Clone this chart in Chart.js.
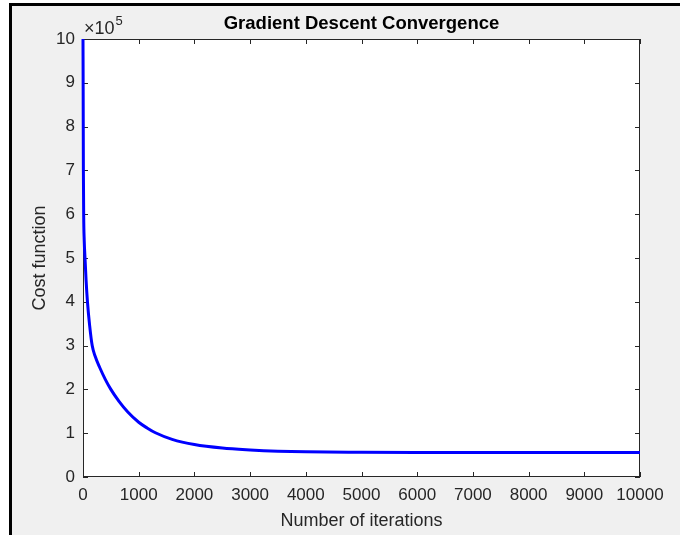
<!DOCTYPE html>
<html>
<head>
<meta charset="utf-8">
<script src="https://cdn.jsdelivr.net/npm/chart.js@4"></script>
<style>
html,body{margin:0;padding:0;background:#fff;}
#wrap{width:680px;height:535px;}
</style>
</head>
<body>
<div id="wrap"><canvas id="c" width="680" height="535"></canvas></div>
<script>
// ---- data ----
const iterations = [0, 3, 7, 12, 22, 36, 55, 80, 120, 165, 220, 300, 400, 500, 650, 800, 1000, 1150, 1300, 1600, 2000, 2500, 3000, 3500, 4000, 5000, 6000, 7000, 8000, 9000, 10000];
const cost = [1000000, 880000, 700000, 600000, 540000, 500000, 450000, 400000, 345000, 300000, 275000, 250000, 223000, 200000, 172000, 149000, 125000, 112000, 101000, 86000, 74000, 66000, 61800, 59000, 57500, 56500, 56000, 56000, 55900, 55800, 55800];
const xTicks = [0, 1000, 2000, 3000, 4000, 5000, 6000, 7000, 8000, 9000, 10000];
const yTicks = [0, 1, 2, 3, 4, 5, 6, 7, 8, 9, 10];
const yExponent = 5;
const titleText = "Gradient Descent Convergence";
const xLabel = "Number of iterations";
const yLabel = "Cost function";

const AX = '#262626';
const FONT = '"Liberation Sans", Arial, sans-serif';

const decor = {
  id: 'decor',
  beforeDraw(chart) {
    const ctx = chart.ctx, a = chart.chartArea;
    ctx.save();
    ctx.fillStyle = '#ffffff';
    ctx.fillRect(0, 0, chart.width, chart.height);
    ctx.fillStyle = '#f0f0f0';
    ctx.fillRect(12, 6, chart.width - 12, chart.height - 6);
    ctx.fillStyle = '#000000';
    ctx.fillRect(9, 3, chart.width - 9, 3);
    ctx.fillRect(9, 3, 3, chart.height - 3);
    ctx.fillStyle = '#ffffff';
    ctx.fillRect(a.left, a.top, a.right - a.left, a.bottom - a.top);
    ctx.restore();
  },
  beforeDatasetsDraw(chart) {
    const ctx = chart.ctx, a = chart.chartArea;
    const xs = chart.scales.x, ys = chart.scales.y;
    ctx.save();
    ctx.strokeStyle = AX;
    ctx.lineWidth = 1;
    ctx.strokeRect(Math.round(a.left) + 0.5, Math.round(a.top) + 0.5, Math.round(a.right - a.left) - 1, Math.round(a.bottom - a.top) - 1);
    const tl = 5;
    ctx.beginPath();
    xs.ticks.forEach(t => {
      const px = Math.round(xs.getPixelForValue(t.value)) + 0.5;
      ctx.moveTo(px, a.bottom); ctx.lineTo(px, a.bottom - tl);
      ctx.moveTo(px, a.top); ctx.lineTo(px, a.top + tl);
    });
    ys.ticks.forEach(t => {
      const py = Math.round(ys.getPixelForValue(t.value)) + 0.5;
      ctx.moveTo(a.left, py); ctx.lineTo(a.left + tl, py);
      ctx.moveTo(a.right, py); ctx.lineTo(a.right - tl, py);
    });
    ctx.stroke();
    ctx.restore();
  },
  afterDraw(chart) {
    const ctx = chart.ctx, a = chart.chartArea;
    ctx.save();
    ctx.fillStyle = '#000000';
    ctx.textAlign = 'center';
    ctx.textBaseline = 'middle';
    ctx.font = 'bold 18.5px ' + FONT;
    ctx.fillText(titleText, (a.left + a.right) / 2, 24);

    ctx.fillStyle = AX;
    ctx.font = '18px ' + FONT;
    ctx.fillText(xLabel, (a.left + a.right) / 2, 521);

    ctx.save();
    ctx.translate(40, (a.top + a.bottom) / 2);
    ctx.rotate(-Math.PI / 2);
    ctx.fillText(yLabel, 0, 0);
    ctx.restore();

    ctx.textAlign = 'left';
    ctx.textBaseline = 'alphabetic';
    ctx.font = '18px ' + FONT;
    const base = '\u00d710';
    ctx.fillText(base, a.left + 1, 34);
    const w = ctx.measureText(base).width;
    ctx.font = '13px ' + FONT;
    ctx.fillText(String(yExponent), a.left + 1 + w + 1, 25);
    ctx.restore();
  }
};

new Chart(document.getElementById('c'), {
  type: 'line',
  data: {
    datasets: [{
      data: iterations.map((x, i) => ({ x: x, y: cost[i] })),
      borderColor: '#0000ff',
      borderWidth: 3,
      pointRadius: 0,
      fill: false,
      clip: 4,
      cubicInterpolationMode: 'monotone'
    }]
  },
  options: {
    responsive: false,
    animation: false,
    devicePixelRatio: 1,
    layout: { padding: { left: 0, top: 39, right: 40, bottom: 0 } },
    plugins: { legend: { display: false }, title: { display: false }, tooltip: { enabled: false } },
    scales: {
      x: {
        type: 'linear', min: 0, max: 10000,
        afterBuildTicks: s => { s.ticks = xTicks.map(v => ({ value: v })); },
        afterFit: s => { s.height = 58; },
        grid: { display: false, drawTicks: false },
        border: { display: false },
        ticks: { color: AX, font: { family: FONT, size: 17 }, padding: 8, maxRotation: 0, autoSkip: false, callback: v => String(v) }
      },
      y: {
        type: 'linear', min: 0, max: 1000000,
        afterBuildTicks: s => { s.ticks = yTicks.map(v => ({ value: v * Math.pow(10, yExponent) })); },
        afterFit: s => { s.width = 83; },
        grid: { display: false, drawTicks: false },
        border: { display: false },
        ticks: { color: AX, font: { family: FONT, size: 17 }, padding: 8, autoSkip: false, callback: v => String(Math.round(v / Math.pow(10, yExponent))) }
      }
    }
  },
  plugins: [decor]
});
</script>
</body>
</html>
